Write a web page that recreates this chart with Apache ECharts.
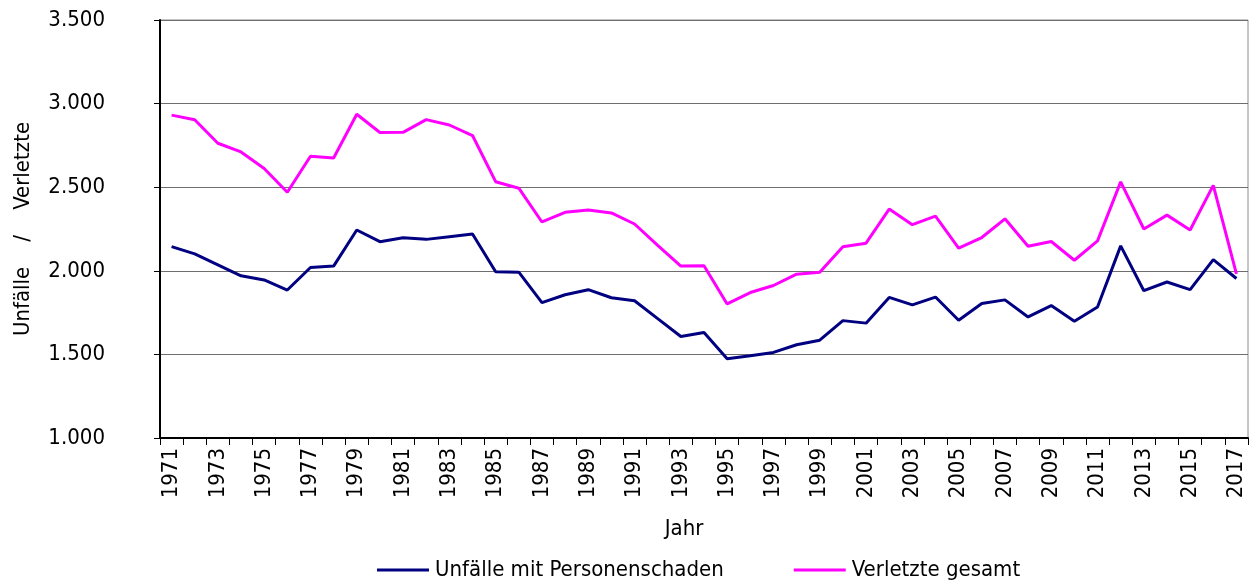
<!DOCTYPE html>
<html>
<head>
<meta charset="utf-8">
<script src="https://cdn.jsdelivr.net/npm/echarts@6/dist/echarts.min.js"></script>
<style>
  html, body { margin: 0; padding: 0; background: #fff; }
  #chart { width: 1256px; height: 585px; }
</style>
</head>
<body>
<div id="chart"></div>
<script>
// Jahre 1971 - 2017
const years = [];
for (let y = 1971; y <= 2017; y++) years.push(String(y));

// Unfälle mit Personenschaden
const unfaelle = [
  2145, 2101, 2036, 1970, 1945, 1885, 2020, 2028, 2244, 2174,
  2198, 2188, 2204, 2220, 1994, 1992, 1810, 1857, 1887, 1839,
  1821, 1714, 1607, 1631, 1474, 1492, 1512, 1558, 1585, 1702,
  1687, 1841, 1796, 1843, 1704, 1804, 1826, 1724, 1792, 1698,
  1784, 2149, 1881, 1933, 1887, 2067, 1954
];

// Verletzte gesamt
const verletzte = [
  2931, 2903, 2763, 2711, 2612, 2470, 2685, 2675, 2936, 2827,
  2828, 2904, 2872, 2809, 2533, 2494, 2292, 2350, 2364, 2346,
  2280, 2152, 2028, 2030, 1802, 1870, 1912, 1980, 1992, 2144,
  2165, 2369, 2276, 2327, 2135, 2199, 2311, 2147, 2175, 2063,
  2179, 2532, 2250, 2333, 2244, 2511, 1982
];

const seriesNames = ['Unfälle mit Personenschaden', 'Verletzte gesamt'];
const seriesColors = ['#000080', '#ff00ff'];

const font = '"DejaVu Sans Condensed", "Liberation Sans", sans-serif';

const myChart = echarts.init(document.getElementById('chart'));

const option = {
  backgroundColor: '#fff',
  animation: false,
  textStyle: { fontFamily: font },
  grid: {
    left: 160,
    right: 8,
    top: 20,
    bottom: 147,
    show: true,
    borderColor: '#8c8c8c',
    borderWidth: 1
  },
  legend: {
    left: 372,
    top: 554,
    icon: 'rect',
    itemWidth: 52,
    itemHeight: 3,
    itemGap: 70,
    selectedMode: false,
    textStyle: { fontFamily: font, fontSize: 22, color: '#000', padding: [0, 0, 0, 1] },
    data: seriesNames
  },
  xAxis: {
    type: 'category',
    data: years,
    boundaryGap: true,
    name: 'Jahr',
    nameLocation: 'middle',
    nameGap: 80,
    nameTextStyle: { fontFamily: font, fontSize: 22, color: '#000', padding: [0, 40, 0, 0] },
    axisLine: { lineStyle: { color: '#000', width: 2 } },
    axisTick: { show: true, interval: 0, length: 7, lineStyle: { color: '#000' } },
    axisLabel: {
      interval: 1,
      rotate: 90,
      fontFamily: font,
      fontSize: 22,
      color: '#000',
      margin: 10
    },
    splitLine: { show: false }
  },
  yAxis: {
    type: 'value',
    min: 1000,
    max: 3500,
    interval: 500,
    name: 'Unfälle    /    Verletzte',
    nameLocation: 'middle',
    nameGap: 126,
    nameTextStyle: { fontFamily: font, fontSize: 22, color: '#000' },
    axisLine: { show: true, lineStyle: { color: '#000', width: 2 } },
    axisTick: { show: true, length: 6, lineStyle: { color: '#000' } },
    axisLabel: {
      fontFamily: font,
      fontSize: 22,
      color: '#000',
      margin: 55,
      formatter: function (v) {
        return v.toLocaleString('de-DE');
      }
    },
    splitLine: { show: true, lineStyle: { color: '#6e6e6e', width: 1 } }
  },
  series: [
    {
      name: seriesNames[0],
      type: 'line',
      data: unfaelle,
      symbol: 'none',
      color: seriesColors[0],
      lineStyle: { color: seriesColors[0], width: 3 }
    },
    {
      name: seriesNames[1],
      type: 'line',
      data: verletzte,
      symbol: 'none',
      color: seriesColors[1],
      lineStyle: { color: seriesColors[1], width: 3 }
    }
  ]
};

myChart.setOption(option);
</script>
</body>
</html>
